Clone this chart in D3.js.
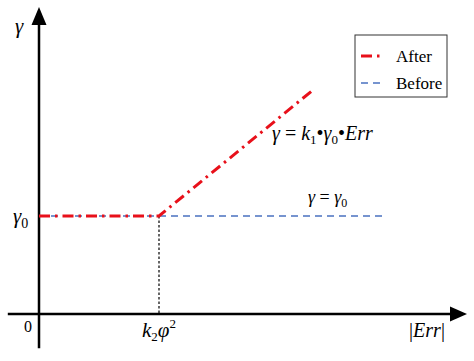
<!DOCTYPE html>
<html>
<head>
<meta charset="utf-8">
<script src="https://cdn.jsdelivr.net/npm/d3@7"></script>
<style>
  body { margin: 0; background: #fff; }
  text { font-family: "Liberation Serif", "Times New Roman", serif; fill: #000; }
</style>
</head>
<body>
<div id="chart"></div>
<script>
var width = 474;
var height = 361;

// data (arbitrary units: x = |Err|, y = gamma)
var afterErr = [0, 3.0, 6.85];
var afterGamma = [3.5, 3.5, 8.0];
var beforeErr = [0, 8.65];
var beforeGamma = [3.5, 3.5];
var kinkErr = 3.0;
var gamma0 = 3.5;
var seriesNames = ["After", "Before"];

var svg = d3.select("#chart")
    .append("svg")
    .attr("width", width)
    .attr("height", height);

var xScale = d3.scaleLinear().domain([0, 10]).range([39, 439]);
var yScale = d3.scaleLinear().domain([0, 10]).range([314, 34]);

var line = d3.line()
    .x(d => xScale(d[0]))
    .y(d => yScale(d[1]));

// axes
svg.append("line")
    .attr("x1", xScale(-0.78)).attr("x2", 452)
    .attr("y1", yScale(0)).attr("y2", yScale(0))
    .attr("stroke", "#000").attr("stroke-width", 2.5);
svg.append("path")
    .attr("d", "M450," + (yScale(0) - 7.5) + " L467," + yScale(0) + " L450," + (yScale(0) + 7.5) + " Z")
    .attr("fill", "#000");

svg.append("line")
    .attr("x1", xScale(0)).attr("x2", xScale(0))
    .attr("y1", yScale(-1.22)).attr("y2", 22)
    .attr("stroke", "#000").attr("stroke-width", 2.5);
svg.append("path")
    .attr("d", "M" + (xScale(0) - 7.5) + ",25 L" + xScale(0) + ",7 L" + (xScale(0) + 7.5) + ",25 Z")
    .attr("fill", "#000");

// dotted drop line
svg.append("line")
    .attr("x1", xScale(kinkErr)).attr("x2", xScale(kinkErr))
    .attr("y1", yScale(gamma0)).attr("y2", yScale(0))
    .attr("stroke", "#000").attr("stroke-width", 1.2)
    .attr("stroke-dasharray", "2.5,2");

// before line
svg.append("path")
    .datum(d3.zip(beforeErr, beforeGamma))
    .attr("d", line)
    .attr("fill", "none")
    .attr("stroke", "#4a72c0")
    .attr("stroke-width", 1.6)
    .attr("stroke-dasharray", "7,5");

// after line
svg.append("path")
    .datum(d3.zip(afterErr, afterGamma))
    .attr("d", line)
    .attr("fill", "none")
    .attr("stroke", "#e8101a")
    .attr("stroke-width", 3)
    .attr("stroke-dasharray", "11,5,2.5,5");

// legend
var legend = svg.append("g").attr("transform", "translate(355,35)");
legend.append("rect")
    .attr("width", 92).attr("height", 62)
    .attr("fill", "#fff").attr("stroke", "#333").attr("stroke-width", 1);
legend.append("line")
    .attr("x1", 6).attr("x2", 28).attr("y1", 21).attr("y2", 21)
    .attr("stroke", "#e8101a").attr("stroke-width", 3)
    .attr("stroke-dasharray", "11,5,2.5,5");
legend.append("line")
    .attr("x1", 6).attr("x2", 28).attr("y1", 48).attr("y2", 48)
    .attr("stroke", "#4a72c0").attr("stroke-width", 1.6)
    .attr("stroke-dasharray", "7,5");
legend.selectAll("text.lab")
    .data(seriesNames)
    .enter().append("text")
    .attr("class", "lab")
    .attr("x", 41)
    .attr("y", (d, i) => 27 + i * 27)
    .style("font-size", "17px")
    .text(d => d);

// labels
svg.append("text")
    .attr("x", 15).attr("y", 33)
    .style("font-size", "21px").style("font-style", "italic")
    .text("γ");

var g0 = svg.append("text")
    .attr("x", 13).attr("y", yScale(gamma0) + 7)
    .style("font-size", "21px");
g0.append("tspan").style("font-style", "italic").text("γ");
g0.append("tspan").attr("dy", 5).style("font-size", "14px").text("0");

svg.append("text")
    .attr("x", 24).attr("y", 332)
    .style("font-size", "16px")
    .text("0");

var kl = svg.append("text")
    .attr("x", xScale(kinkErr)).attr("y", 337)
    .attr("text-anchor", "middle")
    .style("font-size", "21px");
kl.append("tspan").style("font-style", "italic").text("k");
kl.append("tspan").attr("dy", 4).style("font-size", "13px").text("2");
kl.append("tspan").attr("dy", -4).style("font-style", "italic").text("φ");
kl.append("tspan").attr("dy", -9).style("font-size", "13px").text("2");

var el = svg.append("text")
    .attr("x", 427).attr("y", 337)
    .attr("text-anchor", "middle")
    .style("font-size", "20px");
el.append("tspan").text("|");
el.append("tspan").style("font-style", "italic").text("Err");
el.append("tspan").text("|");

var f1 = svg.append("text")
    .attr("x", 272).attr("y", 140)
    .style("font-size", "20px");
f1.append("tspan").style("font-style", "italic").text("γ");
f1.append("tspan").text(" = ");
f1.append("tspan").style("font-style", "italic").text("k");
f1.append("tspan").attr("dy", 4).style("font-size", "13px").text("1");
f1.append("tspan").attr("dy", -4).text("•");
f1.append("tspan").style("font-style", "italic").text("γ");
f1.append("tspan").attr("dy", 4).style("font-size", "13px").text("0");
f1.append("tspan").attr("dy", -4).text("•");
f1.append("tspan").style("font-style", "italic").text("Err");

var f2 = svg.append("text")
    .attr("x", 308).attr("y", 203)
    .style("font-size", "18px");
f2.append("tspan").style("font-style", "italic").text("γ");
f2.append("tspan").text(" = ");
f2.append("tspan").style("font-style", "italic").text("γ");
f2.append("tspan").attr("dy", 4).style("font-size", "12px").text("0");
</script>
</body>
</html>
